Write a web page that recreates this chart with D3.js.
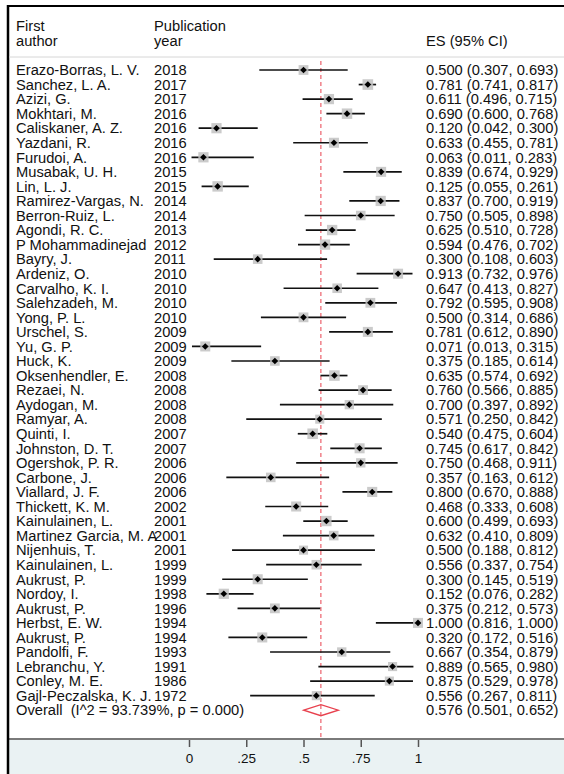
<!DOCTYPE html>
<html>
<head>
<meta charset="utf-8">
<script src="https://cdn.jsdelivr.net/npm/d3@7"></script>
<style>
  body { margin: 0; background: #fff; }
  svg { display: block; font-family: "Liberation Sans", Arial, sans-serif; }
  text { white-space: pre; }
</style>
</head>
<body>
<div id="chart"></div>
<script>
// study data, top to bottom
const authors = ["Erazo-Borras, L. V.", "Sanchez, L. A.", "Azizi, G.", "Mokhtari, M.", "Caliskaner, A. Z.",
  "Yazdani, R.", "Furudoi, A.", "Musabak, U. H.", "Lin, L. J.", "Ramirez-Vargas, N.", "Berron-Ruiz, L.",
  "Agondi, R. C.", "P Mohammadinejad", "Bayry, J.", "Ardeniz, O.", "Carvalho, K. I.", "Salehzadeh, M.",
  "Yong, P. L.", "Urschel, S.", "Yu, G. P.", "Huck, K.", "Oksenhendler, E.", "Rezaei, N.", "Aydogan, M.",
  "Ramyar, A.", "Quinti, I.", "Johnston, D. T.", "Ogershok, P. R.", "Carbone, J.", "Viallard, J. F.",
  "Thickett, K. M.", "Kainulainen, L.", "Martinez Garcia, M. A", "Nijenhuis, T.", "Kainulainen, L.",
  "Aukrust, P.", "Nordoy, I.", "Aukrust, P.", "Herbst, E. W.", "Aukrust, P.", "Pandolfi, F.",
  "Lebranchu, Y.", "Conley, M. E.", "Gajl-Peczalska, K. J."];
const years = [2018, 2017, 2017, 2016, 2016, 2016, 2016, 2015, 2015, 2014, 2014, 2013, 2012, 2011, 2010,
  2010, 2010, 2010, 2009, 2009, 2009, 2008, 2008, 2008, 2008, 2007, 2007, 2006, 2006, 2006, 2002, 2001,
  2001, 2001, 1999, 1999, 1998, 1996, 1994, 1994, 1993, 1991, 1986, 1972];
const es = [0.500, 0.781, 0.611, 0.690, 0.120, 0.633, 0.063, 0.839, 0.125, 0.837, 0.750, 0.625, 0.594,
  0.300, 0.913, 0.647, 0.792, 0.500, 0.781, 0.071, 0.375, 0.635, 0.760, 0.700, 0.571, 0.540, 0.745,
  0.750, 0.357, 0.800, 0.468, 0.600, 0.632, 0.500, 0.556, 0.300, 0.152, 0.375, 1.000, 0.320, 0.667,
  0.889, 0.875, 0.556];
const lower = [0.307, 0.741, 0.496, 0.600, 0.042, 0.455, 0.011, 0.674, 0.055, 0.700, 0.505, 0.510, 0.476,
  0.108, 0.732, 0.413, 0.595, 0.314, 0.612, 0.013, 0.185, 0.574, 0.566, 0.397, 0.250, 0.475, 0.617,
  0.468, 0.163, 0.670, 0.333, 0.499, 0.410, 0.188, 0.337, 0.145, 0.076, 0.212, 0.816, 0.172, 0.354,
  0.565, 0.529, 0.267];
const upper = [0.693, 0.817, 0.715, 0.768, 0.300, 0.781, 0.283, 0.929, 0.261, 0.919, 0.898, 0.728, 0.702,
  0.603, 0.976, 0.827, 0.908, 0.686, 0.890, 0.315, 0.614, 0.692, 0.885, 0.892, 0.842, 0.604, 0.842,
  0.911, 0.612, 0.888, 0.608, 0.693, 0.809, 0.812, 0.754, 0.519, 0.282, 0.573, 1.000, 0.516, 0.879,
  0.980, 0.978, 0.811];
// approximate study weights (%)
const weights = [2.2, 2.6, 2.4, 2.5, 2.4, 2.3, 2.4, 2.3, 2.5, 2.4, 2.1, 2.45, 2.45, 2.1, 2.3, 2.1, 2.2,
  2.2, 2.3, 2.3, 2.1, 2.55, 2.2, 2.0, 1.9, 2.55, 2.3, 2.0, 2.1, 2.35, 2.3, 2.45, 2.1, 1.9, 2.1, 2.3,
  2.4, 2.2, 2.3, 2.3, 2.0, 1.9, 1.9, 1.9];
const overall = { es: 0.576, lo: 0.501, hi: 0.652, label: "Overall  (I^2 = 93.739%, p = 0.000)" };
const tickValues = [0, 0.25, 0.5, 0.75, 1];
const tickLabels = ["0", ".25", ".5", ".75", "1"];

const W = 564, H = 774;
const f3 = d3.format(".3f");
const fs = 14.7;

const svg = d3.select("#chart").append("svg")
  .attr("width", W)
  .attr("height", H);

const x = d3.scaleLinear().domain([0, 1]).range([189, 418]);
const y = d3.scaleLinear().domain([0, authors.length]).range([70, 70 + authors.length * 14.55]);

const axisTop = 739;
const colAuthor = 16, colYear = 154, colES = 426;

// bottom panel
svg.append("rect")
  .attr("x", 8).attr("y", axisTop)
  .attr("width", W - 8).attr("height", H - axisTop)
  .attr("fill", "#eaf2f3");
svg.append("line")
  .attr("x1", 8).attr("x2", W)
  .attr("y1", axisTop).attr("y2", axisTop)
  .attr("stroke", "#7a7a7a").attr("stroke-width", 2);

// frame: top and left
svg.append("line")
  .attr("x1", 7).attr("x2", W).attr("y1", 6).attr("y2", 6)
  .attr("stroke", "#000").attr("stroke-width", 2);
svg.append("line")
  .attr("x1", 8).attr("x2", 8).attr("y1", 5).attr("y2", H)
  .attr("stroke", "#000").attr("stroke-width", 2.5);

// header separator
svg.append("line")
  .attr("x1", 9).attr("x2", W).attr("y1", 57).attr("y2", 57)
  .attr("stroke", "#d6d6d6").attr("stroke-width", 1);

// headers
const head = svg.append("g").attr("font-size", fs).attr("fill", "#111");
head.append("text").attr("x", colAuthor).attr("y", 31).text("First");
head.append("text").attr("x", colAuthor).attr("y", 46).text("author");
head.append("text").attr("x", colYear).attr("y", 31).text("Publication");
head.append("text").attr("x", colYear).attr("y", 46).text("year");
head.append("text").attr("x", colES).attr("y", 46).text("ES (95% CI)");

// reference line at overall estimate
svg.append("line")
  .attr("x1", x(overall.es)).attr("x2", x(overall.es))
  .attr("y1", 61).attr("y2", axisTop)
  .attr("stroke", "#e8414e").attr("stroke-width", 1)
  .attr("stroke-dasharray", "4,3");

const rows = authors.map((a, i) => ({ a, yr: years[i], es: es[i], lo: lower[i], hi: upper[i], w: weights[i], i }));

const g = svg.append("g");

// CI lines
g.selectAll(".ci").data(rows).enter().append("line")
  .attr("x1", d => x(d.lo)).attr("x2", d => x(d.hi))
  .attr("y1", d => y(d.i)).attr("y2", d => y(d.i))
  .attr("stroke", "#111").attr("stroke-width", 1.7);

// weight boxes
g.selectAll(".box").data(rows).enter().append("rect")
  .attr("x", d => x(d.es) - 3.3 * Math.sqrt(d.w))
  .attr("y", d => y(d.i) - 3.3 * Math.sqrt(d.w))
  .attr("width", d => 6.6 * Math.sqrt(d.w))
  .attr("height", d => 6.6 * Math.sqrt(d.w))
  .attr("fill", "#c2c2c2").attr("opacity", 0.85);

// point diamonds
g.selectAll(".pt").data(rows).enter().append("path")
  .attr("d", d => {
    const cx = x(d.es), cy = y(d.i), r = 3.3;
    return `M${cx - r},${cy}L${cx},${cy - r}L${cx + r},${cy}L${cx},${cy + r}Z`;
  })
  .attr("fill", "#000");

// text columns
const txt = svg.append("g").attr("font-size", fs).attr("fill", "#111");
txt.selectAll(".au").data(rows).enter().append("text")
  .attr("x", colAuthor).attr("y", d => y(d.i)).attr("dy", "0.36em")
  .text(d => d.a);
txt.selectAll(".yr").data(rows).enter().append("text")
  .attr("x", colYear).attr("y", d => y(d.i)).attr("dy", "0.36em")
  .text(d => d.yr);
txt.selectAll(".es").data(rows).enter().append("text")
  .attr("x", colES).attr("y", d => y(d.i)).attr("dy", "0.36em")
  .text(d => `${f3(d.es)} (${f3(d.lo)}, ${f3(d.hi)})`);

// overall row
const yo = y(authors.length);
txt.append("text").attr("x", colAuthor).attr("y", yo).attr("dy", "0.36em").text(overall.label);
txt.append("text").attr("x", colES).attr("y", yo).attr("dy", "0.36em")
  .text(`${f3(overall.es)} (${f3(overall.lo)}, ${f3(overall.hi)})`);
svg.append("path")
  .attr("d", `M${x(overall.lo)},${yo}L${x(overall.es)},${yo - 5.5}L${x(overall.hi)},${yo}L${x(overall.es)},${yo + 5.5}Z`)
  .attr("fill", "none").attr("stroke", "#e8414e").attr("stroke-width", 1.3);

// x axis
const axis = svg.append("g")
  .attr("transform", `translate(0,${axisTop + 1})`)
  .call(d3.axisBottom(x)
    .tickValues(tickValues)
    .tickFormat((d, i) => tickLabels[i])
    .tickSize(7)
    .tickPadding(6));
axis.select(".domain").remove();
axis.selectAll(".tick line").attr("stroke", "#555").attr("stroke-width", 1.5);
axis.selectAll(".tick text")
  .attr("fill", "#111")
  .style("font-family", "\"Liberation Sans\", Arial, sans-serif")
  .style("font-size", "13.5px");
</script>
</body>
</html>
